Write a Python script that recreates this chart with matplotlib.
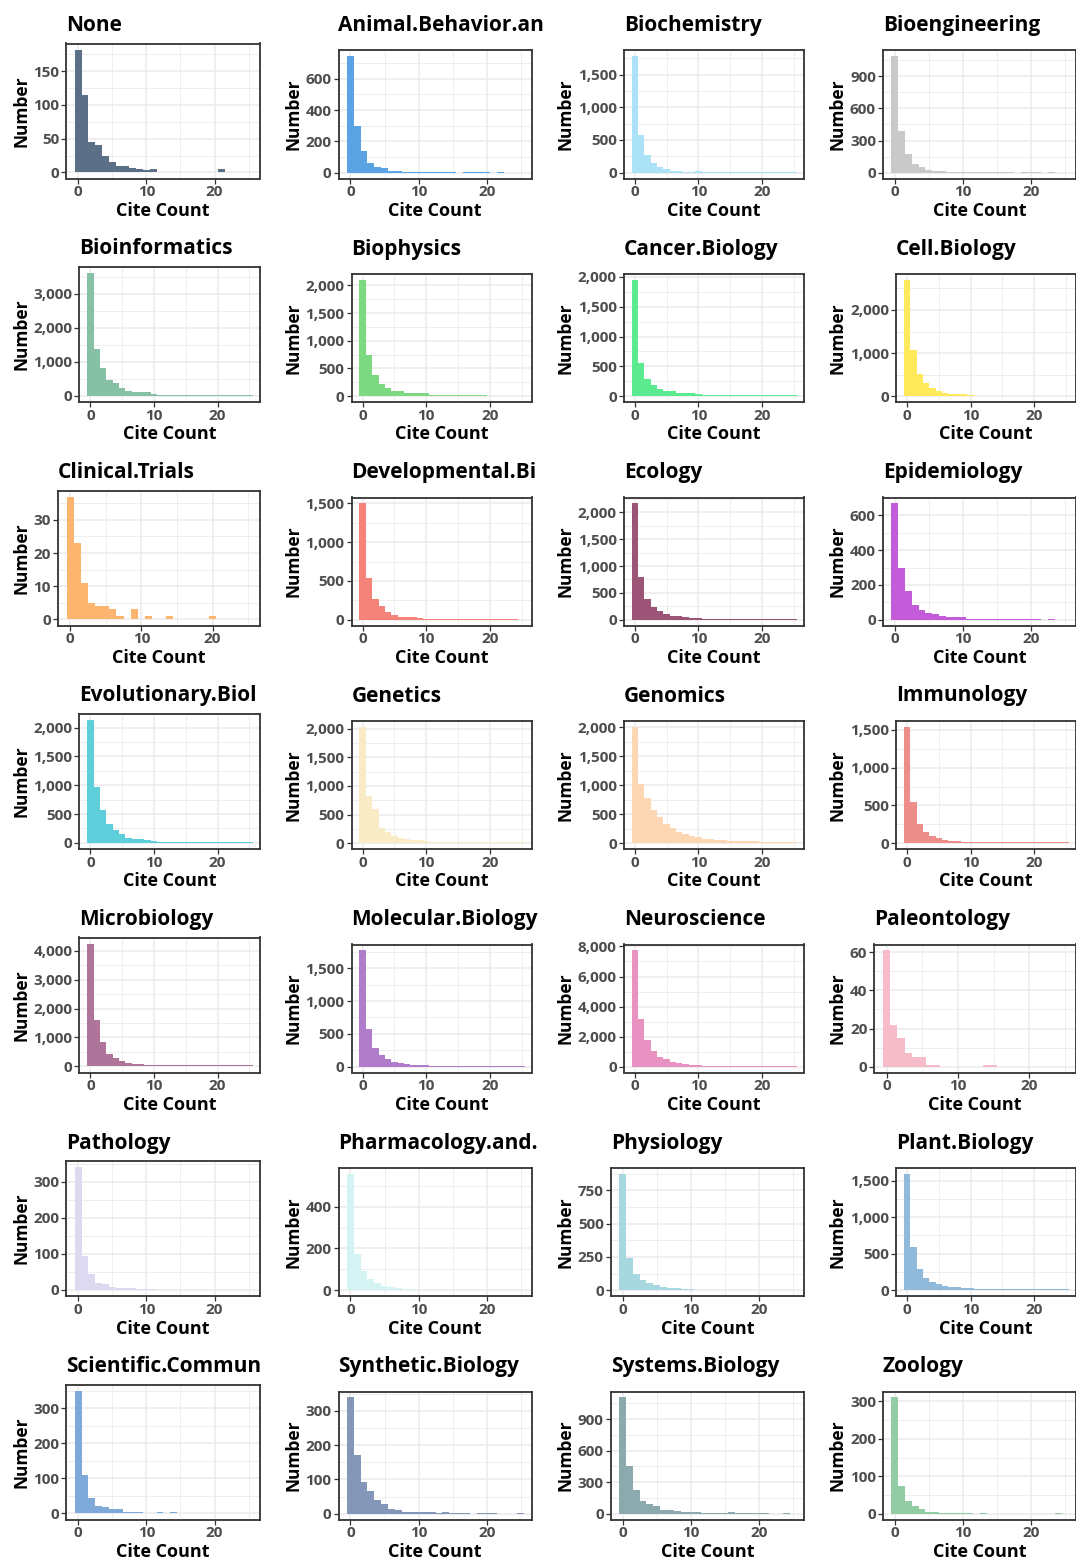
import matplotlib
matplotlib.use("Agg")
import matplotlib.pyplot as plt
from matplotlib import font_manager
from matplotlib.ticker import FixedLocator, FuncFormatter


# pick the first humanist sans that really has a bold face installed
def bold_family(candidates):
    for fam in candidates:
        for f in font_manager.fontManager.ttflist:
            if f.name == fam and (f.weight in ("bold", 700, 600, "semibold") or
                                  (isinstance(f.weight, int) and f.weight >= 600)):
                return fam
    return "DejaVu Sans"


FAMILY = bold_family(["Open Sans", "Noto Sans", "Lato", "Roboto", "Inter"])
plt.rcParams['font.family'] = [FAMILY, 'DejaVu Sans']

# === data: counts per cite-count bin (0..25) ===
cite_bins = list(range(26))

none_counts = [182, 115, 45, 40, 24, 15, 9, 9, 7, 5, 3, 5, 1, 1, 1, 1, 0, 1, 1, 1, 1, 5, 1, 1, 1, 0]
animal_counts = [744, 298, 136, 65, 39, 28, 13, 8, 7, 7, 6, 3, 6, 3, 3, 3, 0, 2, 2, 2, 2, 0, 2, 0, 0, 0]
biochem_counts = [1780, 572, 263, 155, 93, 52, 31, 31, 15, 8, 20, 8, 8, 8, 8, 8, 8, 8, 8, 8, 8, 8, 8, 8, 8, 8]
bioeng_counts = [1086, 387, 173, 85, 57, 28, 19, 19, 10, 5, 4, 4, 4, 4, 4, 4, 4, 4, 0, 4, 4, 4, 0, 4, 0, 0]
bioinf_counts = [3600, 1366, 828, 469, 389, 229, 140, 110, 110, 105, 60, 40, 40, 25, 25, 25, 25, 25, 25, 25, 25, 25, 25, 25, 25, 25]
biophys_counts = [2100, 750, 385, 220, 147, 90, 90, 50, 50, 50, 50, 20, 20, 20, 20, 20, 15, 15, 15, 15, 12, 12, 12, 12, 12, 12]
cancer_counts = [1950, 560, 290, 185, 120, 85, 85, 50, 50, 50, 40, 15, 15, 15, 15, 15, 15, 12, 12, 12, 12, 12, 12, 12, 12, 12]
cell_counts = [2700, 1070, 510, 300, 185, 116, 70, 60, 40, 40, 30, 15, 15, 10, 10, 10, 10, 10, 5, 5, 5, 5, 5, 5, 5, 5]
clinical_counts = [37, 23, 11, 5, 4, 4, 3, 1, 0, 3, 0, 1, 0, 0, 1, 0, 0, 0, 0, 0, 1, 0, 0, 0, 0, 0]
devel_counts = [1500, 540, 263, 170, 105, 65, 40, 40, 30, 25, 15, 10, 10, 10, 10, 10, 10, 8, 8, 8, 8, 8, 8, 8, 8, 0]
ecology_counts = [2170, 790, 377, 245, 170, 113, 70, 60, 50, 40, 30, 15, 15, 15, 15, 15, 15, 15, 12, 12, 12, 12, 12, 12, 12, 12]
epidem_counts = [670, 297, 163, 82, 58, 41, 35, 20, 15, 15, 15, 5, 5, 5, 5, 5, 3, 3, 3, 3, 3, 3, 0, 3, 0, 0]
evol_counts = [2128, 970, 570, 330, 220, 147, 90, 70, 60, 50, 40, 20, 20, 20, 20, 20, 20, 20, 20, 20, 20, 20, 20, 20, 20, 20]
genetics_counts = [2030, 825, 595, 265, 200, 130, 90, 70, 60, 50, 40, 25, 25, 20, 20, 20, 15, 15, 15, 15, 15, 15, 15, 15, 15, 15]
genomics_counts = [2010, 1030, 780, 565, 450, 330, 265, 200, 165, 132, 100, 80, 70, 60, 50, 45, 40, 35, 30, 30, 25, 25, 20, 20, 20, 20]
immuno_counts = [1540, 550, 255, 147, 94, 67, 40, 35, 25, 20, 20, 10, 10, 10, 10, 10, 10, 10, 10, 10, 10, 10, 10, 10, 10, 10]
micro_counts = [4250, 1600, 836, 436, 290, 180, 110, 90, 70, 60, 60, 35, 35, 35, 35, 35, 30, 30, 30, 30, 30, 30, 30, 30, 30, 30]
molbio_counts = [1773, 575, 288, 182, 121, 76, 50, 40, 30, 20, 20, 10, 10, 10, 10, 10, 10, 10, 10, 8, 8, 8, 8, 8, 8, 8]
neuro_counts = [7742, 3204, 1806, 1075, 624, 495, 301, 237, 172, 108, 108, 60, 60, 60, 60, 60, 60, 60, 50, 50, 50, 50, 50, 50, 50, 50]
paleo_counts = [61, 22, 15, 7, 5, 5, 1, 1, 0, 0, 0, 0, 0, 0, 1, 1, 0, 0, 0, 0, 0, 0, 0, 0, 0, 0]
path_counts = [341, 94, 44, 20, 15, 7, 5, 4, 4, 2, 2, 2, 0, 1, 1, 1, 0, 0, 0, 0, 0, 0, 0, 0, 0, 0]
pharm_counts = [557, 171, 90, 52, 33, 20, 13, 10, 8, 5, 3, 3, 3, 2, 2, 2, 1, 1, 1, 1, 1, 1, 0, 0, 0, 0]
physio_counts = [875, 245, 119, 74, 52, 37, 25, 20, 15, 12, 10, 5, 5, 5, 5, 5, 5, 5, 3, 3, 3, 3, 3, 3, 3, 3]
plant_counts = [1594, 586, 286, 163, 109, 82, 60, 50, 40, 30, 25, 15, 15, 15, 15, 15, 15, 15, 15, 10, 10, 10, 10, 10, 10, 10]
sci_counts = [351, 109, 45, 21, 18, 13, 13, 4, 4, 4, 1, 1, 4, 1, 4, 1, 0, 0, 0, 1, 0, 0, 1, 0, 1, 0]
synth_counts = [339, 171, 92, 65, 39, 27, 13, 10, 4, 6, 4, 6, 4, 1, 4, 1, 1, 1, 0, 1, 1, 1, 0, 0, 0, 1]
systems_counts = [1107, 453, 223, 118, 89, 70, 32, 32, 22, 13, 13, 13, 3, 3, 3, 3, 13, 3, 3, 3, 3, 3, 0, 0, 3, 0]
zoo_counts = [311, 74, 33, 20, 12, 4, 4, 2, 1, 1, 1, 1, 0, 1, 0, 0, 0, 0, 0, 0, 0, 0, 0, 0, 1, 0]

titles = ["None", "Animal.Behavior.an", "Biochemistry", "Bioengineering",
          "Bioinformatics", "Biophysics", "Cancer.Biology", "Cell.Biology",
          "Clinical.Trials", "Developmental.Bi", "Ecology", "Epidemiology",
          "Evolutionary.Biol", "Genetics", "Genomics", "Immunology",
          "Microbiology", "Molecular.Biology", "Neuroscience", "Paleontology",
          "Pathology", "Pharmacology.and.", "Physiology", "Plant.Biology",
          "Scientific.Commun", "Synthetic.Biology", "Systems.Biology", "Zoology"]

counts = [none_counts, animal_counts, biochem_counts, bioeng_counts,
          bioinf_counts, biophys_counts, cancer_counts, cell_counts,
          clinical_counts, devel_counts, ecology_counts, epidem_counts,
          evol_counts, genetics_counts, genomics_counts, immuno_counts,
          micro_counts, molbio_counts, neuro_counts, paleo_counts,
          path_counts, pharm_counts, physio_counts, plant_counts,
          sci_counts, synth_counts, systems_counts, zoo_counts]

colors = ["#5B6F87", "#5BA4E4", "#ABE2F8", "#C9C9C9",
          "#86C0A5", "#7CD982", "#5BEA8F", "#FDE95A",
          "#FDB46E", "#F5837A", "#9C5577", "#C45BD8",
          "#5ECFDA", "#FAEBC7", "#FDD7B3", "#EE8E8B",
          "#AE7499", "#B07DCB", "#E892C2", "#F6BCCA",
          "#DCD9F1", "#D4F3F3", "#A7D8E0", "#91B9DA",
          "#7EA9D8", "#8497B8", "#8CAAAD", "#92CCA4"]

y_ticks = [[0, 50, 100, 150], [0, 200, 400, 600], [0, 500, 1000, 1500], [0, 300, 600, 900],
           [0, 1000, 2000, 3000], [0, 500, 1000, 1500, 2000], [0, 500, 1000, 1500, 2000], [0, 1000, 2000],
           [0, 10, 20, 30], [0, 500, 1000, 1500], [0, 500, 1000, 1500, 2000], [0, 200, 400, 600],
           [0, 500, 1000, 1500, 2000], [0, 500, 1000, 1500, 2000], [0, 500, 1000, 1500, 2000], [0, 500, 1000, 1500],
           [0, 1000, 2000, 3000, 4000], [0, 500, 1000, 1500], [0, 2000, 4000, 6000, 8000], [0, 20, 40, 60],
           [0, 100, 200, 300], [0, 200, 400], [0, 250, 500, 750], [0, 500, 1000, 1500],
           [0, 100, 200, 300], [0, 100, 200, 300], [0, 300, 600, 900], [0, 100, 200, 300]]

x_ticks = [0, 10, 20]
x_minor = [5, 15, 25]

# === layout (pixels) ===
W, H = 1076, 1563
fig = plt.figure(figsize=(W / 100, H / 100), dpi=100)

GRID = "#EBEBEB"
BORDER = "#333333"
TICKTXT = "#4D4D4D"


def fx(px):
    return px / W


def fy(px):
    return 1 - px / H


axes = []
for i, (title, vals, col, yt) in enumerate(zip(titles, counts, colors, y_ticks)):
    r, c = divmod(i, 4)
    bottom = 178.5 + 223.5 * r
    top = bottom - (135 if c == 0 else 128)
    right = 259.5 + 272.2 * c
    ax = fig.add_axes([fx(right - 190), fy(bottom), fx(190), (bottom - top) / H])
    ax.set_axisbelow(True)
    ax.bar(cite_bins, vals, width=1.0, color=col, linewidth=0)

    ymax = max(vals)
    ax.set_ylim(-0.05 * ymax, 1.05 * ymax)
    ax.set_xlim(-1.75, 26.6)
    ax.xaxis.set_major_locator(FixedLocator(x_ticks))
    ax.xaxis.set_minor_locator(FixedLocator(x_minor))
    ax.yaxis.set_major_locator(FixedLocator(yt))
    step = yt[1] - yt[0]
    ax.yaxis.set_minor_locator(FixedLocator([t + step / 2 for t in [yt[0] - step] + yt]))
    ax.yaxis.set_major_formatter(FuncFormatter(lambda v, p: f"{int(v):,}"))

    ax.grid(which="major", color=GRID, linewidth=1.1)
    ax.grid(which="minor", color=GRID, linewidth=0.6)
    for s in ax.spines.values():
        s.set_color(BORDER)
        s.set_linewidth(1.3)
    ax.tick_params(which="major", length=3.5, width=0.9, color=BORDER, pad=1.5,
                   labelsize=11, labelcolor=TICKTXT)
    ax.tick_params(which="minor", length=0)
    for lab in ax.get_xticklabels() + ax.get_yticklabels():
        lab.set_fontweight("bold")
    axes.append((ax, r, c, bottom, top, right, title))

fig.canvas.draw()
renderer = fig.canvas.get_renderer()

for ax, r, c, bottom, top, right, title in axes:
    w = max(t.get_window_extent(renderer).width for t in ax.get_yticklabels())
    label_left = 12 + 272.2 * c
    left = label_left + 21.3 + w + 7.0
    ax.set_position([fx(left), fy(bottom), fx(right - left), (bottom - top) / H])

    fig.text(fx(left), fy(31 + bottom - 178.5), title, fontsize=15, fontweight="bold",
             ha="left", va="baseline", color="black")
    fig.text(fx(label_left), fy((top + bottom) / 2), "Number", rotation=90,
             fontsize=12.5, fontweight="bold", ha="left", va="center")
    fig.text(fx((left + right) / 2), fy(bottom + 37.5), "Cite Count",
             fontsize=13, fontweight="bold", ha="center", va="baseline")

fig.savefig("out.png", dpi=100)
